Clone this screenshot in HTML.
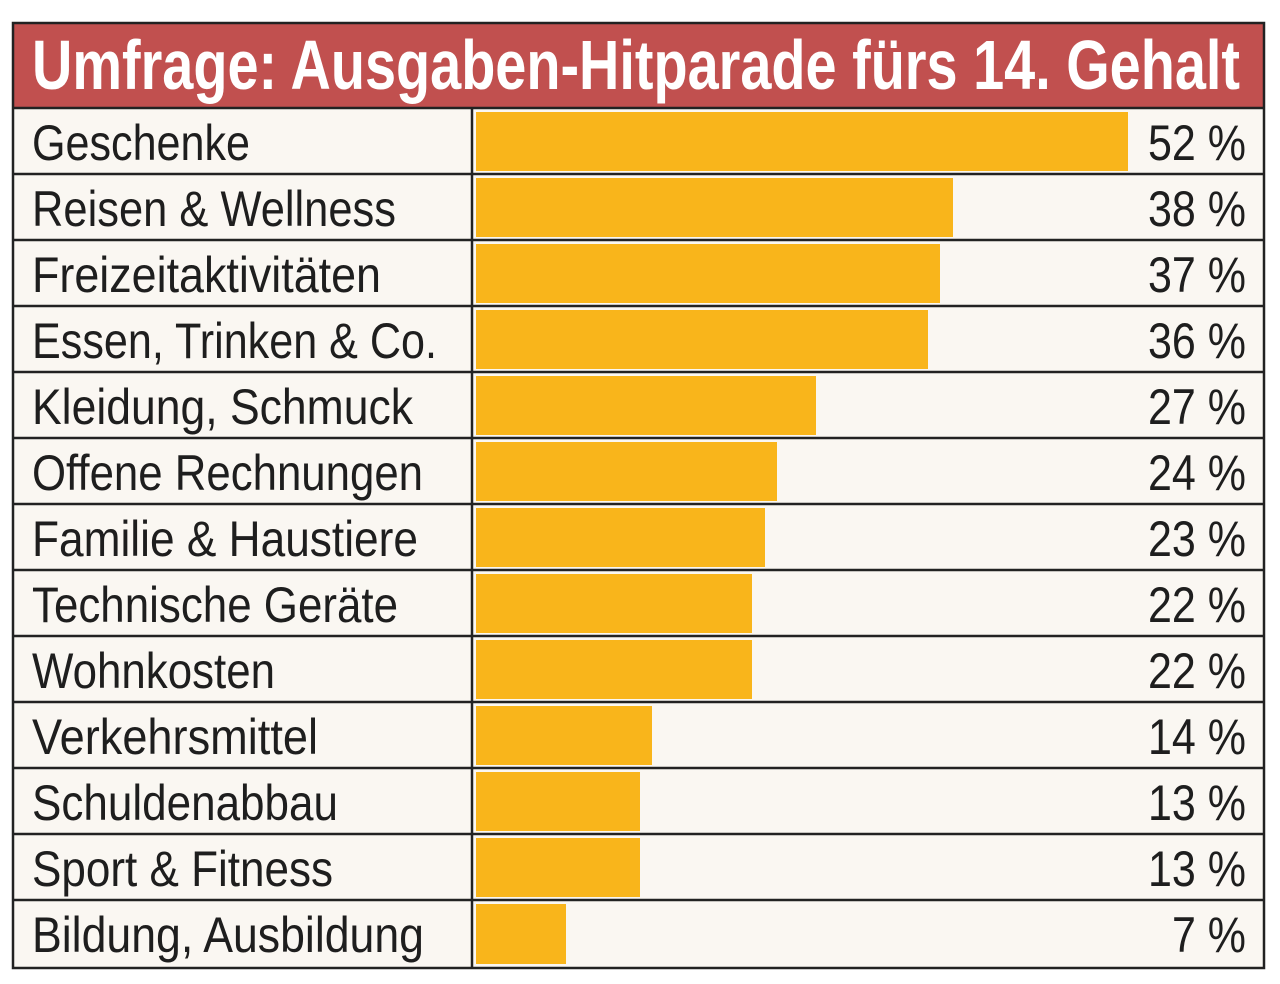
<!DOCTYPE html>
<html><head><meta charset="utf-8"><style>body{margin:0;background:#fff}svg{display:block}</style></head>
<body>
<svg width="1280" height="984" xmlns="http://www.w3.org/2000/svg" font-family="Liberation Sans, Arial, sans-serif">
<rect x="0" y="0" width="1280" height="984" fill="#ffffff"/>
<rect x="13" y="23" width="1251" height="86" fill="#c1504f"/>
<text x="32" y="89" font-size="70" font-weight="bold" fill="#fff" textLength="1208" lengthAdjust="spacingAndGlyphs">Umfrage: Ausgaben-Hitparade fürs 14. Gehalt</text>
<rect x="13" y="108" width="1251" height="860" fill="#faf7f2"/>
<g fill="#f9b51b">
<rect x="476" y="112" width="652" height="59"/>
<rect x="476" y="178" width="477" height="59"/>
<rect x="476" y="244" width="464" height="59"/>
<rect x="476" y="310" width="452" height="59"/>
<rect x="476" y="376" width="340" height="59"/>
<rect x="476" y="442" width="301" height="59"/>
<rect x="476" y="508" width="289" height="59"/>
<rect x="476" y="574" width="276" height="59"/>
<rect x="476" y="640" width="276" height="59"/>
<rect x="476" y="706" width="176" height="59"/>
<rect x="476" y="772" width="164" height="59"/>
<rect x="476" y="838" width="164" height="59"/>
<rect x="476" y="904" width="90" height="60"/>
</g>
<g stroke="#222" stroke-width="2.5" fill="none">
<rect x="13" y="23" width="1251" height="945"/>
<line x1="13" y1="108" x2="1264" y2="108"/>
<line x1="472" y1="108" x2="472" y2="968"/>
<line x1="13" y1="174" x2="1264" y2="174"/><line x1="13" y1="240" x2="1264" y2="240"/>
<line x1="13" y1="306" x2="1264" y2="306"/><line x1="13" y1="372" x2="1264" y2="372"/>
<line x1="13" y1="438" x2="1264" y2="438"/><line x1="13" y1="504" x2="1264" y2="504"/>
<line x1="13" y1="570" x2="1264" y2="570"/><line x1="13" y1="636" x2="1264" y2="636"/>
<line x1="13" y1="702" x2="1264" y2="702"/><line x1="13" y1="768" x2="1264" y2="768"/>
<line x1="13" y1="834" x2="1264" y2="834"/><line x1="13" y1="900" x2="1264" y2="900"/>
</g>
<g font-size="50" fill="#1e1e1e">
<text x="32" y="160" textLength="218" lengthAdjust="spacingAndGlyphs">Geschenke</text>
<text x="32" y="226" textLength="364" lengthAdjust="spacingAndGlyphs">Reisen &amp; Wellness</text>
<text x="32" y="292" textLength="349" lengthAdjust="spacingAndGlyphs">Freizeitaktivitäten</text>
<text x="32" y="358" textLength="405" lengthAdjust="spacingAndGlyphs">Essen, Trinken &amp; Co.</text>
<text x="32" y="424" textLength="381" lengthAdjust="spacingAndGlyphs">Kleidung, Schmuck</text>
<text x="32" y="490" textLength="391" lengthAdjust="spacingAndGlyphs">Offene Rechnungen</text>
<text x="32" y="556" textLength="386" lengthAdjust="spacingAndGlyphs">Familie &amp; Haustiere</text>
<text x="32" y="622" textLength="366" lengthAdjust="spacingAndGlyphs">Technische Geräte</text>
<text x="32" y="688" textLength="243" lengthAdjust="spacingAndGlyphs">Wohnkosten</text>
<text x="32" y="754" textLength="286" lengthAdjust="spacingAndGlyphs">Verkehrsmittel</text>
<text x="32" y="820" textLength="306" lengthAdjust="spacingAndGlyphs">Schuldenabbau</text>
<text x="32" y="886" textLength="301" lengthAdjust="spacingAndGlyphs">Sport &amp; Fitness</text>
<text x="32" y="952" textLength="392" lengthAdjust="spacingAndGlyphs">Bildung, Ausbildung</text>
</g>
<g font-size="50" fill="#1e1e1e">
<text x="1148" y="160" textLength="98" lengthAdjust="spacingAndGlyphs">52 %</text>
<text x="1148" y="226" textLength="98" lengthAdjust="spacingAndGlyphs">38 %</text>
<text x="1148" y="292" textLength="98" lengthAdjust="spacingAndGlyphs">37 %</text>
<text x="1148" y="358" textLength="98" lengthAdjust="spacingAndGlyphs">36 %</text>
<text x="1148" y="424" textLength="98" lengthAdjust="spacingAndGlyphs">27 %</text>
<text x="1148" y="490" textLength="98" lengthAdjust="spacingAndGlyphs">24 %</text>
<text x="1148" y="556" textLength="98" lengthAdjust="spacingAndGlyphs">23 %</text>
<text x="1148" y="622" textLength="98" lengthAdjust="spacingAndGlyphs">22 %</text>
<text x="1148" y="688" textLength="98" lengthAdjust="spacingAndGlyphs">22 %</text>
<text x="1148" y="754" textLength="98" lengthAdjust="spacingAndGlyphs">14 %</text>
<text x="1148" y="820" textLength="98" lengthAdjust="spacingAndGlyphs">13 %</text>
<text x="1148" y="886" textLength="98" lengthAdjust="spacingAndGlyphs">13 %</text>
<text x="1172" y="952" textLength="74" lengthAdjust="spacingAndGlyphs">7 %</text>
</g>
</svg>
</body></html>
